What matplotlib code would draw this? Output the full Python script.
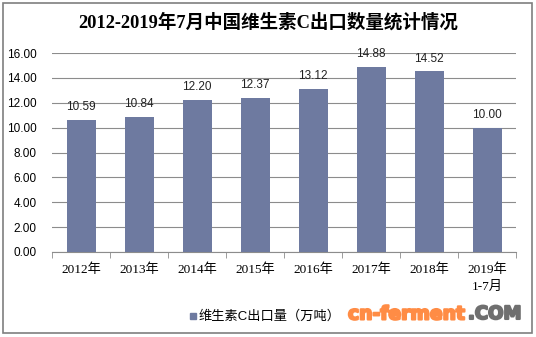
import matplotlib
matplotlib.use('Agg')
import matplotlib.pyplot as plt
import matplotlib.patheffects as pe
from matplotlib.patches import Rectangle

years = ['2012年', '2013年', '2014年', '2015年', '2016年', '2017年', '2018年', '2019年\n1-7月']
export_vc = [10.59, 10.84, 12.20, 12.37, 13.12, 14.88, 14.52, 10.00]
yticks = [0, 2, 4, 6, 8, 10, 12, 14, 16]

serif = ['Liberation Serif', 'Noto Sans CJK SC']
sans = ['Liberation Sans', 'Noto Sans CJK SC']
bar_color = '#6e7aa0'

fig = plt.figure(figsize=(5.36, 3.37), dpi=100)
W, H = 536, 337
ax = fig.add_axes([52 / W, 1 - 252 / H, (516 - 52) / W, (252 - 53) / H])

x = list(range(len(years)))
ax.bar(x, export_vc, width=0.5, color=bar_color, zorder=3)
for xi, v in zip(x, export_vc):
    ax.text(xi, v + 0.55, f'{v:.2f}', ha='center', va='bottom',
            fontsize=8.5, family=sans, color='#222222')

ax.set_xlim(-0.5, len(years) - 0.5)
ax.set_ylim(0, 16)
ax.set_yticks(yticks)
ax.set_yticklabels([f'{t:.2f}' for t in yticks], family=sans, fontsize=8.5)
ax.yaxis.grid(True, color='#8c8c8c', linewidth=0.8, zorder=0)
ax.tick_params(axis='y', length=0, pad=11)

ax.set_xticks(x)
ax.set_xticklabels(years, family=serif, fontsize=9.5, linespacing=1.6)
ax.set_xticks([i - 0.5 for i in range(len(years) + 1)], minor=True)
ax.tick_params(axis='x', which='major', length=0, pad=8)
ax.tick_params(axis='x', which='minor', length=4, color='#8c8c8c')

for s in ['top', 'right', 'left']:
    ax.spines[s].set_visible(False)
ax.spines['bottom'].set_color('#8c8c8c')

fig.text(0.5, 1 - 22 / H, '2012-2019年7月中国维生素C出口数量统计情况',
         ha='center', va='center', fontsize=13.3, fontweight='bold', family=serif)

# legend
fig.patches.append(Rectangle((190 / W, 1 - 319 / H), 6 / W, 6 / H,
                             transform=fig.transFigure, color=bar_color))
fig.text(199 / W, 1 - 316 / H, '维生素C出口量（万吨）', ha='left', va='center',
         fontsize=9.5, family=sans)

# watermark
orange = '#ff8c45'
grey = '#6f6f6f'
fig.text(465 / W, 1 - 314 / H, 'cn-ferment', ha='right', va='center',
         fontsize=13.5, fontweight='bold', family=['DejaVu Sans'], color=orange,
         path_effects=[pe.withStroke(linewidth=1.5, foreground=orange)])
fig.text(468 / W, 1 - 314 / H, '.COM', ha='left', va='center',
         fontsize=13, fontweight='bold', family=['DejaVu Sans'], color=grey,
         path_effects=[pe.withStroke(linewidth=1.5, foreground=grey)])

# outer frame
fig.patches.append(Rectangle((3 / W, 1 - 333 / H), 529 / W, 330 / H,
                             transform=fig.transFigure, fill=False,
                             edgecolor='#7f7f7f', linewidth=1.2))

fig.savefig('out.png', dpi=100)
